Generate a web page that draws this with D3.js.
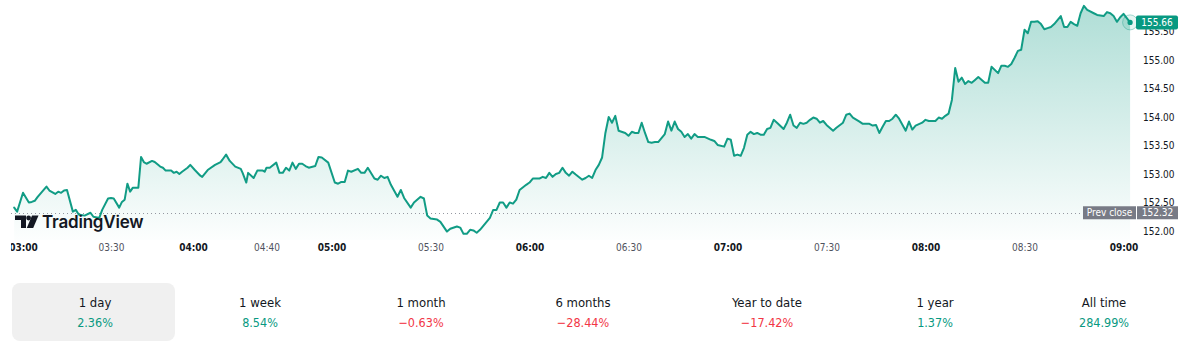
<!DOCTYPE html>
<html>
<head>
<meta charset="utf-8">
<script src="https://cdn.jsdelivr.net/npm/d3@7"></script>
<style>
  html, body { margin: 0; padding: 0; background: #ffffff; }
  svg { display: block; }
  .cf { font-family: "DejaVu Sans Condensed", "DejaVu Sans", sans-serif; font-stretch: condensed; }
</style>
</head>
<body>
<svg id="chart" width="1200" height="355"></svg>
<script>
// ---------------- DATA ----------------
const times = (
  "02:57 02:58 03:00 03:02 03:03 03:04 03:05 03:08 03:09 03:11 " +
  "03:12 03:13 03:14 03:15 03:17 03:18 03:19 03:21 03:23 03:24 " +
  "03:26 03:27 03:29 03:30 03:31 03:33 03:34 03:35 03:36 03:37 " +
  "03:38 03:40 03:41 03:42 03:43 03:45 03:46 03:48 03:49 03:50 " +
  "03:52 03:53 03:54 03:55 03:56 03:58 03:59 04:01 04:04 04:05 " +
  "04:08 04:12 04:15 04:16 04:18 04:20 04:23 04:26 04:27 04:29 " +
  "04:30 04:33 04:35 04:38 04:39 04:40 04:41 04:43 04:44 04:45 " +
  "04:46 04:47 04:48 04:49 04:50 04:51 04:52 04:53 04:55 04:56 " +
  "04:57 04:59 " +
  "05:01 05:02 05:03 05:04 05:05 05:06 05:08 05:09 05:10 05:11 " +
  "05:13 05:14 05:15 05:16 05:17 05:18 05:20 05:21 05:22 05:24 " +
  "05:25 05:27 05:28 05:29 05:30 05:32 05:33 05:35 05:36 05:38 " +
  "05:39 05:40 05:41 05:42 05:43 05:44 05:45 05:47 05:48 05:49 " +
  "05:50 05:51 05:52 05:53 05:54 05:55 05:56 05:57 05:59 06:00 " +
  "06:01 06:02 06:03 06:04 06:05 06:06 06:07 06:08 06:09 06:10 " +
  "06:11 06:12 06:13 06:14 06:16 06:17 06:18 06:19 06:20 06:21 " +
  "06:22 06:23 06:24 06:25 06:26 06:27 06:29 06:30 06:31 06:32 " +
  "06:33 06:34 06:35 06:36 06:37 06:38 06:39 06:41 06:42 06:43 " +
  "06:44 06:45 06:46 06:47 06:48 06:49 06:50 06:51 06:53 06:55 " +
  "06:56 06:57 06:59 07:00 07:01 07:02 07:03 07:04 07:05 07:06 " +
  "07:07 07:08 07:09 07:10 07:11 07:12 07:13 07:14 07:15 07:17 " +
  "07:18 07:19 07:20 07:21 07:22 07:23 07:24 07:25 07:26 07:27 " +
  "07:28 07:29 07:30 07:32 07:33 07:35 07:36 07:37 07:38 07:40 " +
  "07:41 07:43 07:44 07:45 07:46 07:47 07:48 07:49 07:50 07:51 " +
  "07:52 07:54 07:55 07:56 07:57 07:59 08:00 08:01 08:03 08:04 " +
  "08:05 08:06 08:07 08:08 08:09 08:10 08:11 08:12 08:13 08:14 " +
  "08:15 08:16 08:18 08:19 08:20 08:22 08:23 08:24 08:25 08:26 " +
  "08:27 08:28 08:29 08:30 08:31 08:32 08:33 08:34 08:35 08:36 " +
  "08:37 08:38 08:39 08:41 08:42 08:43 08:44 08:45 08:46 08:47 " +
  "08:48 08:49 08:51 08:52 08:54 08:55 08:56 08:57 08:58 08:59 " +
  "09:00 09:02"
).split(" ");

const prices = [
  152.41,152.34,152.67,152.50,152.51,152.53,152.60,152.78,152.71,152.65,
  152.69,152.67,152.71,152.72,152.34,152.37,152.29,152.27,152.32,152.25,
  152.23,152.37,152.57,152.58,152.57,152.41,152.51,152.55,152.83,152.69,
  152.76,152.76,153.30,153.21,153.18,153.23,153.21,153.13,153.11,153.06,
  153.06,153.02,153.04,153.00,153.04,153.11,153.16,153.07,152.97,152.95,
  153.07,153.16,153.21,153.25,153.34,153.23,153.13,153.09,153.02,152.85,
  153.02,152.93,153.06,153.06,153.04,153.11,153.11,153.20,153.02,153.02,
  153.11,153.06,153.20,153.09,153.18,153.18,153.14,153.11,153.14,153.30,
  153.29,153.20,
  152.85,152.83,152.86,152.86,153.06,153.04,153.09,153.02,153.02,153.11,
  152.92,152.90,152.97,152.93,152.95,152.81,152.60,152.72,152.58,152.41,
  152.50,152.60,152.57,152.27,152.22,152.20,152.16,151.99,152.04,152.08,
  152.06,151.95,151.95,152.02,152.01,151.97,152.02,152.16,152.23,152.37,
  152.37,152.50,152.50,152.41,152.50,152.48,152.55,152.72,152.81,152.85,
  152.92,152.92,152.92,152.95,152.93,153.02,152.95,153.00,153.02,153.11,
  153.02,152.97,153.04,152.99,152.90,152.93,152.97,152.93,153.07,153.16,
  153.29,153.72,154.00,153.90,154.02,153.76,153.72,153.67,153.74,153.72,
  153.72,153.90,153.72,153.56,153.55,153.56,153.56,153.70,153.92,153.76,
  153.92,153.79,153.74,153.65,153.70,153.62,153.70,153.65,153.65,153.60,
  153.58,153.51,153.48,153.62,153.60,153.32,153.34,153.32,153.46,153.69,
  153.74,153.70,153.72,153.69,153.69,153.79,153.81,153.95,153.90,153.79,
  153.90,154.04,153.85,153.81,153.90,153.88,153.90,153.95,153.99,153.97,
  153.90,153.93,153.86,153.76,153.81,153.90,154.04,154.06,153.99,153.92,
  153.88,153.88,153.85,153.86,153.72,153.83,153.93,153.93,153.97,154.04,
  153.97,153.76,153.92,153.78,153.85,153.90,153.95,153.93,153.93,153.99,
  153.97,154.02,154.06,154.30,154.86,154.62,154.69,154.58,154.63,154.60,
  154.65,154.70,154.60,154.60,154.88,154.77,154.90,154.90,154.88,154.93,
  155.04,155.16,155.18,155.53,155.47,155.67,155.67,155.68,155.63,155.54,
  155.56,155.58,155.63,155.77,155.58,155.58,155.67,155.63,155.60,155.82,
  155.95,155.88,155.82,155.79,155.77,155.84,155.82,155.77,155.67,155.75,
  155.81,155.66
];

const prevClose = 152.32;
const lastPrice = 155.66;

const xTickLabels = ["03:00","03:30","04:00","04:40","05:00","05:30","06:00","06:30","07:00","07:30","08:00","08:30","09:00"];
const yTickValues = [152.0, 152.5, 153.0, 153.5, 154.0, 154.5, 155.0, 155.5];

const periodLabels = ["1 day","1 week","1 month","6 months","Year to date","1 year","All time"];
const periodChanges = [2.36, 8.54, -0.63, -28.44, -17.42, 1.37, 284.99];

// ---------------- LAYOUT ----------------
const GREEN = "#089981", LINE = "#119c85", RED = "#f23645", TEXT = "#131722";
const parse = d3.timeParse("%H:%M");
// time axis is bar-based (sparse pre-market), so the scale is piecewise
const anchorTimes = ["03:00","03:30","04:00","04:40","05:00","09:00"];
const anchorPx = [23, 111, 193, 266.5, 331.5, 1123.5];

const x = d3.scaleTime().domain(anchorTimes.map(parse)).range(anchorPx);
const y = d3.scaleLinear().domain([152.0, 155.5]).range([231, 31.5]);
const plotBottom = 240;

const data = times.map((t, i) => ({ t: parse(t), v: prices[i] })).filter(d => d.v != null);

const svg = d3.select("#chart");
svg.append("rect").attr("width", 1200).attr("height", 355).attr("fill", "#fff");

const defs = svg.append("defs");
const grad = defs.append("linearGradient").attr("id", "areaGrad")
  .attr("gradientUnits", "userSpaceOnUse").attr("x1", 0).attr("x2", 0)
  .attr("y1", 0).attr("y2", plotBottom);
grad.append("stop").attr("offset", 0).attr("stop-color", GREEN).attr("stop-opacity", 0.33);
grad.append("stop").attr("offset", 1).attr("stop-color", GREEN).attr("stop-opacity", 0.01);

defs.append("clipPath").attr("id", "plotClip").append("rect")
  .attr("x", 11).attr("y", 0).attr("width", 1125).attr("height", plotBottom);
defs.append("clipPath").attr("id", "axisClip").append("rect")
  .attr("x", 11).attr("y", 236).attr("width", 1189).attr("height", 34);

const plot = svg.append("g").attr("clip-path", "url(#plotClip)");

plot.append("path").datum(data)
  .attr("fill", "url(#areaGrad)")
  .attr("d", d3.area().x(d => x(d.t)).y0(plotBottom).y1(d => y(d.v)));

// previous close dotted line
plot.append("line")
  .attr("x1", 11).attr("x2", 1083)
  .attr("y1", Math.round(y(prevClose)) + 0.5).attr("y2", Math.round(y(prevClose)) + 0.5)
  .attr("stroke", "#9598a1").attr("stroke-width", 1).attr("stroke-dasharray", "1,3");

plot.append("path").datum(data)
  .attr("fill", "none").attr("stroke", LINE).attr("stroke-width", 2)
  .attr("stroke-linejoin", "round").attr("stroke-linecap", "round")
  .attr("d", d3.line().x(d => x(d.t)).y(d => y(d.v)));

// last point marker
const last = data[data.length - 1];
svg.append("circle").attr("cx", x(last.t)).attr("cy", y(last.v)).attr("r", 7.5)
  .attr("fill", "rgba(8,153,129,0.10)").attr("stroke", "rgba(8,153,129,0.35)").attr("stroke-width", 1);
svg.append("circle").attr("cx", x(last.t)).attr("cy", y(last.v)).attr("r", 2.6)
  .attr("fill", GREEN);

// logo
const logo = svg.append("g");
logo.append("path").attr("fill", TEXT)
  .attr("d", "M15,215.5 H26 V228 H21 V220 H15 Z");
logo.append("circle").attr("cx", 28.6).attr("cy", 218).attr("r", 2.4).attr("fill", TEXT);
logo.append("path").attr("fill", TEXT)
  .attr("d", "M32,215.5 H38.5 L33.2,228 H26.8 Z");
logo.append("text").attr("x", 42).attr("y", 228)
  .attr("font-family", "Inter, Roboto, sans-serif").attr("font-weight", 600)
  .attr("font-size", 17).attr("fill", TEXT).attr("letter-spacing", -0.2)
  .text("TradingView");

// x axis
const xAxis = d3.axisBottom(x)
  .tickValues(xTickLabels.map(parse))
  .tickFormat(d3.timeFormat("%H:%M"))
  .tickSize(0).tickPadding(0);
const gxWrap = svg.append("g").attr("clip-path", "url(#axisClip)");
const gx = gxWrap.append("g").attr("class", "cf")
  .attr("transform", "translate(0,244)").call(xAxis);
gx.select(".domain").remove();
gx.selectAll("text")
  .attr("font-size", 10).attr("font-family", null)
  .attr("fill", d => d.getMinutes() === 0 ? TEXT : "#50535e")
  .attr("font-weight", d => d.getMinutes() === 0 ? "bold" : "normal");

// y axis
const yAxis = d3.axisRight(y).tickValues(yTickValues)
  .tickFormat(d3.format(".2f")).tickSize(0).tickPadding(0);
const gy = svg.append("g").attr("class", "cf").attr("transform", "translate(1143,0)").call(yAxis);
gy.select(".domain").remove();
gy.selectAll("text").attr("font-size", 10).attr("font-family", null).attr("fill", TEXT);

// last price label
const ly = y(lastPrice);
svg.append("rect").attr("x", 1136).attr("y", ly - 7).attr("width", 42).attr("height", 14)
  .attr("rx", 2).attr("fill", GREEN);
svg.append("text").attr("class", "cf").attr("x", 1157).attr("y", ly).attr("dy", "0.35em")
  .attr("text-anchor", "middle").attr("font-size", 10).attr("fill", "#fff")
  .text(d3.format(".2f")(lastPrice));

// prev close label
const py = y(prevClose);
svg.append("rect").attr("x", 1083).attr("y", py - 6.5).attr("width", 53).attr("height", 13)
  .attr("fill", "#787b86");
svg.append("rect").attr("x", 1137).attr("y", py - 6.5).attr("width", 41).attr("height", 13)
  .attr("fill", "#787b86");
svg.append("text").attr("class", "cf").attr("x", 1109.5).attr("y", py).attr("dy", "0.35em")
  .attr("text-anchor", "middle").attr("font-size", 10).attr("fill", "#fff").text("Prev close");
svg.append("text").attr("class", "cf").attr("x", 1157.5).attr("y", py).attr("dy", "0.35em")
  .attr("text-anchor", "middle").attr("font-size", 10).attr("fill", "#fff")
  .text(d3.format(".2f")(prevClose));

// period tabs
const tabX = [95, 260, 421, 583, 767, 935, 1104];
svg.append("rect").attr("x", 12).attr("y", 283).attr("width", 163).attr("height", 58)
  .attr("rx", 8).attr("fill", "#f0f0f0");
const fmtPct = v => (v < 0 ? "\u2212" : "") + d3.format(".2f")(Math.abs(v)) + "%";
const tabs = svg.append("g").attr("class", "cf");
periodLabels.forEach((lab, i) => {
  tabs.append("text").attr("x", tabX[i]).attr("y", 307).attr("text-anchor", "middle")
    .attr("font-size", 13).attr("fill", TEXT).text(lab);
  tabs.append("text").attr("x", tabX[i]).attr("y", 327).attr("text-anchor", "middle")
    .attr("font-size", 12.5).attr("fill", periodChanges[i] >= 0 ? GREEN : RED)
    .text(fmtPct(periodChanges[i]));
});
</script>
</body>
</html>
